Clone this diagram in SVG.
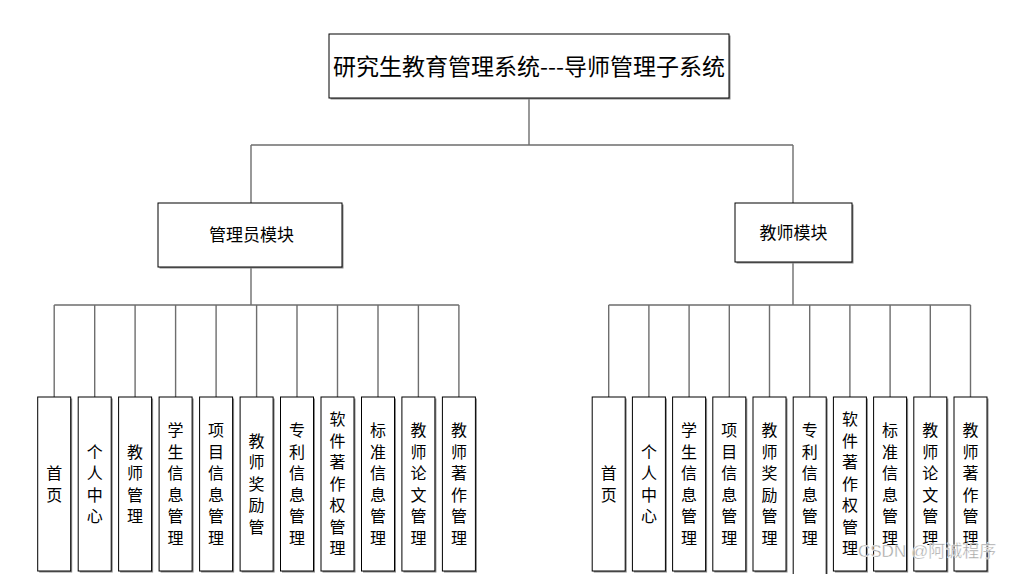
<svg xmlns="http://www.w3.org/2000/svg" width="1011" height="574" viewBox="0 0 1011 574">
<style>
.bg{fill:#fff}
.box{fill:#fff;stroke:#000;stroke-width:1}
.sh{fill:#8a8a8a}
.ln{stroke:#6e6e6e;stroke-width:1.4;fill:none}
.t{font-family:"Noto Sans CJK SC","Noto Sans",sans-serif;fill:#000;text-anchor:middle}
.title{font-size:23px}
.mod{font-size:17px}
.leaf{font-size:16px;writing-mode:vertical-rl;letter-spacing:5.5px}
.wm{font-family:"Liberation Sans","Noto Sans CJK SC",sans-serif;font-size:17px;fill:#a0a0a0;stroke:#fff;stroke-width:0.4}
</style>
<rect class="bg" x="0" y="0" width="1011" height="574"/>
<g id="connectors">
<path class="ln" d="M529,98V145M251,145H793M251,145V203M793,145V203"/>
<path class="ln" d="M251,267V305M54.2,305H458.9"/>
<path class="ln" d="M54.2,305V397M94.7,305V397M135.1,305V397M175.6,305V397M216.1,305V397M256.6,305V397M297,305V397M337.5,305V397M378,305V397M418.4,305V397M458.9,305V397"/>
<path class="ln" d="M793,262V305M608.7,305H970.5"/>
<path class="ln" d="M608.7,305V397M648.9,305V397M689.1,305V397M729.3,305V397M769.5,305V397M809.7,305V397M849.9,305V397M890.1,305V397M930.3,305V397M970.5,305V397"/>
</g>
<g id="root">
<rect class="sh" x="330.5" y="35.5" width="400" height="64"/>
<rect class="box" x="329" y="34" width="400" height="64"/>
<text class="t title" x="529" y="75">研究生教育管理系统---导师管理子系统</text>
</g>
<g id="admin">
<rect class="sh" x="159.5" y="204.5" width="184" height="64"/>
<rect class="box" x="158" y="203" width="184" height="64"/>
<text class="t mod" x="251.5" y="241">管理员模块</text>
</g>
<g id="teacher">
<rect class="sh" x="736.5" y="204.5" width="117" height="59"/>
<rect class="box" x="735" y="203" width="117" height="59"/>
<text class="t mod" x="793.5" y="239">教师模块</text>
</g>
<g id="a1"><rect class="sh" x="39.2" y="398.5" width="33" height="174"/><rect class="box" x="37.7" y="397" width="33" height="174"/><text class="t leaf" x="54.2" y="486.5">首页</text></g>
<g id="a2"><rect class="sh" x="79.7" y="398.5" width="33" height="174"/><rect class="box" x="78.2" y="397" width="33" height="174"/><text class="t leaf" x="94.7" y="486.5">个人中心</text></g>
<g id="a3"><rect class="sh" x="120.1" y="398.5" width="33" height="174"/><rect class="box" x="118.6" y="397" width="33" height="174"/><text class="t leaf" x="135.1" y="486.5">教师管理</text></g>
<g id="a4"><rect class="sh" x="160.6" y="398.5" width="33" height="174"/><rect class="box" x="159.1" y="397" width="33" height="174"/><text class="t leaf" x="175.6" y="486.5">学生信息管理</text></g>
<g id="a5"><rect class="sh" x="201.1" y="398.5" width="33" height="174"/><rect class="box" x="199.6" y="397" width="33" height="174"/><text class="t leaf" x="216.1" y="486.5">项目信息管理</text></g>
<g id="a6"><rect class="sh" x="241.6" y="398.5" width="33" height="174"/><rect class="box" x="240.1" y="397" width="33" height="174"/><text class="t leaf" x="256.6" y="486.5">教师奖励管</text></g>
<g id="a7"><rect class="sh" x="282" y="398.5" width="33" height="174"/><rect class="box" x="280.5" y="397" width="33" height="174"/><text class="t leaf" x="297" y="486.5">专利信息管理</text></g>
<g id="a8"><rect class="sh" x="322.5" y="398.5" width="33" height="174"/><rect class="box" x="321" y="397" width="33" height="174"/><text class="t leaf" x="337.5" y="486.5">软件著作权管理</text></g>
<g id="a9"><rect class="sh" x="363" y="398.5" width="33" height="174"/><rect class="box" x="361.5" y="397" width="33" height="174"/><text class="t leaf" x="378" y="486.5">标准信息管理</text></g>
<g id="a10"><rect class="sh" x="403.4" y="398.5" width="33" height="174"/><rect class="box" x="401.9" y="397" width="33" height="174"/><text class="t leaf" x="418.4" y="486.5">教师论文管理</text></g>
<g id="a11"><rect class="sh" x="443.9" y="398.5" width="33" height="174"/><rect class="box" x="442.4" y="397" width="33" height="174"/><text class="t leaf" x="458.9" y="486.5">教师著作管理</text></g>
<g id="t1"><rect class="sh" x="593.7" y="398.5" width="33" height="174"/><rect class="box" x="592.2" y="397" width="33" height="174"/><text class="t leaf" x="608.7" y="486.5">首页</text></g>
<g id="t2"><rect class="sh" x="633.9" y="398.5" width="33" height="174"/><rect class="box" x="632.4" y="397" width="33" height="174"/><text class="t leaf" x="648.9" y="486.5">个人中心</text></g>
<g id="t3"><rect class="sh" x="674.1" y="398.5" width="33" height="174"/><rect class="box" x="672.6" y="397" width="33" height="174"/><text class="t leaf" x="689.1" y="486.5">学生信息管理</text></g>
<g id="t4"><rect class="sh" x="714.3" y="398.5" width="33" height="174"/><rect class="box" x="712.8" y="397" width="33" height="174"/><text class="t leaf" x="729.3" y="486.5">项目信息管理</text></g>
<g id="t5"><rect class="sh" x="754.5" y="398.5" width="33" height="174"/><rect class="box" x="753" y="397" width="33" height="174"/><text class="t leaf" x="769.5" y="486.5">教师奖励管理</text></g>
<g id="t6"><rect class="sh" x="794.7" y="398.5" width="33" height="190"/><rect class="box" x="793.2" y="397" width="33" height="190"/><text class="t leaf" x="809.7" y="486.5">专利信息管理</text></g>
<g id="t7"><rect class="sh" x="834.9" y="398.5" width="33" height="174"/><rect class="box" x="833.4" y="397" width="33" height="174"/><text class="t leaf" x="849.9" y="486.5">软件著作权管理</text></g>
<g id="t8"><rect class="sh" x="875.1" y="398.5" width="33" height="174"/><rect class="box" x="873.6" y="397" width="33" height="174"/><text class="t leaf" x="890.1" y="486.5">标准信息管理</text></g>
<g id="t9"><rect class="sh" x="915.3" y="398.5" width="33" height="174"/><rect class="box" x="913.8" y="397" width="33" height="174"/><text class="t leaf" x="930.3" y="486.5">教师论文管理</text></g>
<g id="t10"><rect class="sh" x="955.5" y="398.5" width="33" height="174"/><rect class="box" x="954" y="397" width="33" height="174"/><text class="t leaf" x="970.5" y="486.5">教师著作管理</text></g>
<text class="wm" x="858" y="557">CSDN @阿诚程序</text>
</svg>
